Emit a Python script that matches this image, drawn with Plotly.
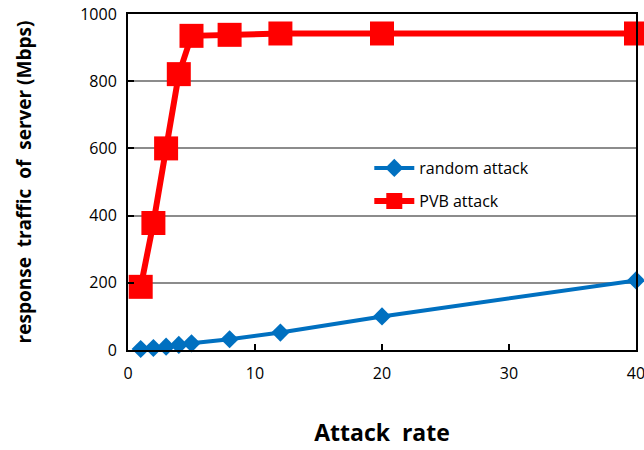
import plotly.graph_objects as go

attack_rate = [1, 2, 3, 4, 5, 8, 12, 20, 40]
random_attack = [3, 6, 10, 15, 20, 32, 52, 100, 207]
pvb_attack = [188, 378, 600, 821, 935, 938, 942, 942, 942]

x_ticks = [0, 10, 20, 30, 40]
y_ticks = [0, 200, 400, 600, 800, 1000]

fig = go.Figure()
fig.add_trace(go.Scatter(
    x=attack_rate, y=random_attack, mode="lines+markers", name="random attack",
    line=dict(color="#0070C0", width=4),
    marker=dict(symbol="diamond", size=14, color="#0070C0"),
    cliponaxis=False, legend="legend",
))
fig.add_trace(go.Scatter(
    x=attack_rate, y=pvb_attack, mode="lines+markers", name="PVB attack",
    line=dict(color="#FF0000", width=6),
    marker=dict(symbol="square", size=24, color="#FF0000"),
    cliponaxis=False, legend="legend2",
))

font_family = "Open Sans, Liberation Sans, sans-serif"
leg_common = dict(xanchor="left", yanchor="middle", bgcolor="rgba(0,0,0,0)",
                  font=dict(size=16), itemwidth=40)
fig.update_layout(
    width=644, height=450,
    margin=dict(l=128, r=8, t=14, b=100),
    paper_bgcolor="white", plot_bgcolor="white",
    font=dict(family=font_family, color="#000000", size=16),
    showlegend=True,
    legend=dict(x=0.475, y=(350 - 168) / 336, **leg_common),
    legend2=dict(x=0.475, y=(350 - 201) / 336, **leg_common),
    xaxis=dict(
        range=[0, 40], tickvals=x_ticks, ticks="inside", ticklen=6, tickwidth=2,
        tickcolor="black", showline=True, linecolor="black", linewidth=2,
        mirror=True, showgrid=False, zeroline=False, automargin=False,
        ticklabeloverflow="allow", ticklabelstandoff=8,
        tickfont=dict(size=16),
        title=dict(text="<b>Attack\u00a0\u00a0rate</b>", font=dict(size=23), standoff=42),
    ),
    yaxis=dict(
        range=[0, 1000], tickvals=y_ticks, ticks="inside", ticklen=6, tickwidth=2,
        tickcolor="black", showline=True, linecolor="black", linewidth=2,
        mirror=True, showgrid=True, gridcolor="#8c8c8c", gridwidth=2,
        zeroline=False, tickfont=dict(size=16), automargin=False,
        ticklabelstandoff=6,
        title=dict(text="<b>response\u00a0\u00a0traffic\u00a0\u00a0of\u00a0\u00a0server\u00a0(Mbps)</b>",
                   font=dict(size=19), standoff=44),
    ),
)

fig.write_html("out.html")
